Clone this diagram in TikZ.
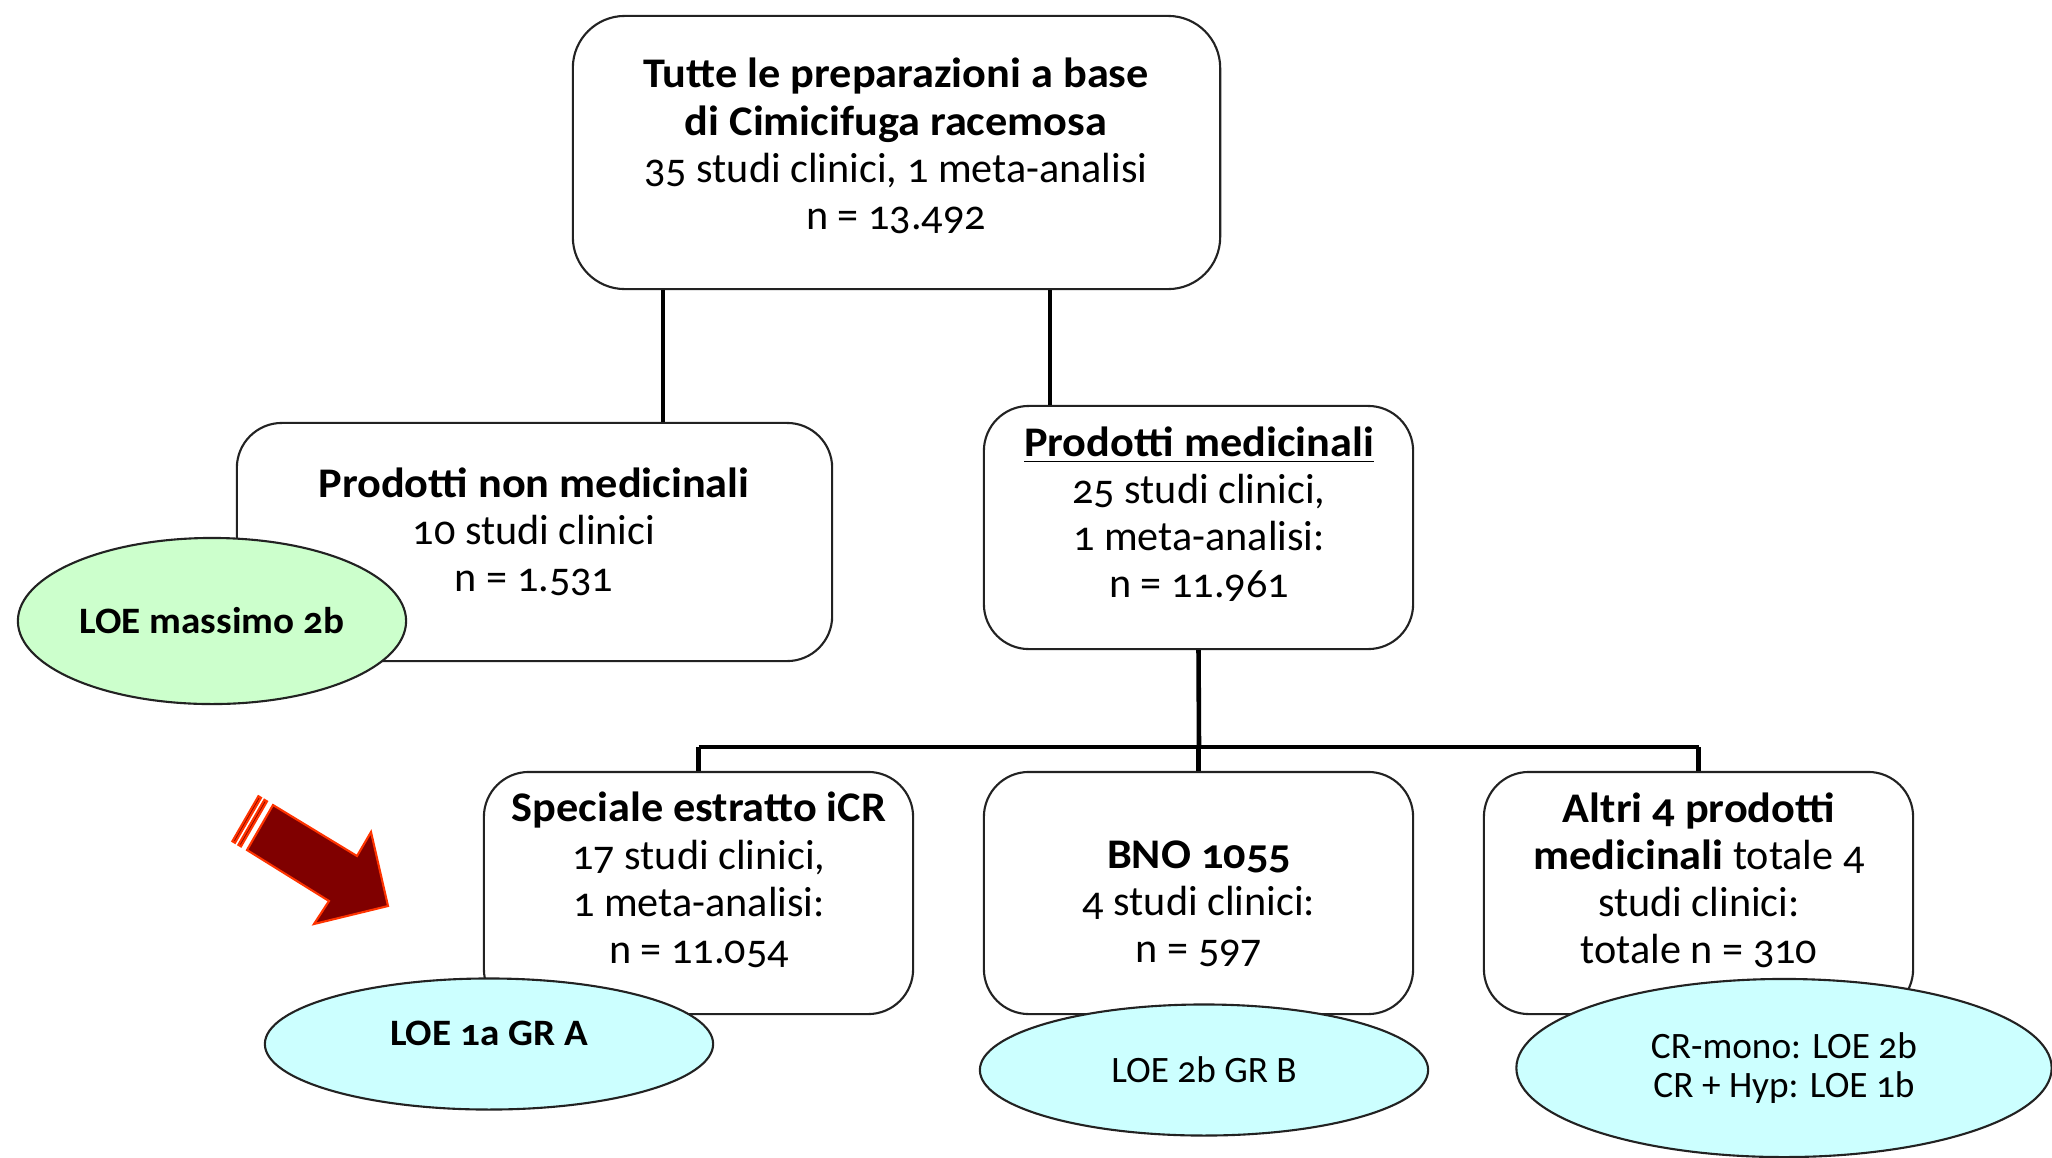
\documentclass[tikz,border=0pt]{standalone}
\usepackage{fontspec}
\setmainfont{Carlito}[Numbers=OldStyle, BoldFeatures={FakeStretch=1.05}]
\usetikzlibrary{shapes.geometric}
\definecolor{greenfill}{HTML}{CCFFCC}
\definecolor{cyanfill}{HTML}{CCFFFF}
\definecolor{arrowred}{HTML}{800000}
\definecolor{arroworange}{HTML}{FF3300}
\definecolor{boxline}{HTML}{222222}
\tikzset{
  box/.style={draw=boxline, line width=0.6pt, rounded corners=0.45cm, inner sep=0pt},
  topbox/.style={box, rounded corners=0.52cm},
  conn/.style={draw=black, line width=1.3pt},
  txt/.style={align=center, font=\fontsize{12}{13.4}\selectfont, inner sep=0pt},
  loe/.style={ellipse, draw=boxline, line width=0.6pt, align=center, inner sep=0pt},
  loetxt/.style={font=\fontsize{10.6}{11.1}\selectfont},
  bigarrow/.style={fill=arrowred, draw=arroworange, line width=0.6pt, line join=miter}
}
\begin{document}
\begin{tikzpicture}[x=0.01cm, y=-0.01cm]
\useasboundingbox (0,0) rectangle (2052,1157);
% boxes
\node[topbox, minimum width=6.47cm, minimum height=2.73cm] (top) at (896.5,152.5) {};
\node[box, minimum width=5.95cm, minimum height=2.38cm] (L) at (534.5,542) {};
\node[box, minimum width=4.29cm, minimum height=2.43cm] (R) at (1198.5,527.5) {};
\node[box, minimum width=4.29cm, minimum height=2.42cm] (B1) at (698.5,893) {};
\node[box, minimum width=4.29cm, minimum height=2.42cm] (B2) at (1198.5,893) {};
\node[box, minimum width=4.29cm, minimum height=2.42cm] (B3) at (1698.5,893) {};
% connectors
\coordinate (c1) at (663,0);
\coordinate (c2) at (1050,0);
\coordinate (bus) at (1199,747);
\draw[conn] (top.south -| c1) -- (L.north -| c1);
\draw[conn] (top.south -| c2) -- (R.north -| c2);
\draw[conn] (R.south) -- (bus);
\draw[conn] (B1.north |- bus) -- (B3.north |- bus);
\draw[conn] (B1.north |- bus) -- (B1.north);
\draw[conn] (B2.north |- bus) -- (B2.north);
\draw[conn] (B3.north |- bus) -- (B3.north);
% texts
\node[txt] (ttop) at (896,146) {\textbf{Tutte le preparazioni a base}\\\textbf{di Cimicifuga racemosa}\\35 studi clinici, 1 meta-analisi\\n = 13.492};
\node[txt] (tL) at (534,532) {\textbf{Prodotti non medicinali}\\10 studi clinici\\n = 1.531};
\node[txt] (tR) at (1199,514) {\underline{\textbf{Prodotti medicinali}}\\25 studi clinici,\\1 meta-analisi:\\n = 11.961};
\node[txt] (tB1) at (699,880) {\textbf{Speciale estratto iCR}\\17 studi clinici,\\1 meta-analisi:\\n = 11.054};
\node[txt] (tB2) at (1199,904) {\textbf{BNO 1055}\\4 studi clinici:\\n = 597};
\node[txt] (tB3) at (1699,880) {\textbf{Altri 4 prodotti}\\\textbf{medicinali} totale 4\\studi clinici:\\totale n = 310};
% ellipses
\node[loe, fill=greenfill, minimum width=3.88cm, minimum height=1.66cm, loetxt] (E0) at (212,621) {\textbf{LOE massimo 2b}};
\node[loe, fill=cyanfill, minimum width=4.48cm, minimum height=1.31cm, loetxt] (E1) at (489,1044) {\raisebox{0.22cm}{\textbf{LOE 1a GR A}}};
\node[loe, fill=cyanfill, minimum width=4.48cm, minimum height=1.31cm, loetxt] (E2) at (1204,1070) {LOE 2b GR B};
\node[loe, fill=cyanfill, minimum width=5.35cm, minimum height=1.78cm, loetxt] (E3) at (1784,1068) {CR-mono: LOE 2b\\CR + Hyp: LOE 1b};
% big arrow
\draw[bigarrow] (273,805) -- (357,856) -- (371,832) -- (388,906) -- (314,924) -- (329,901) -- (247,850) -- cycle;
\draw[bigarrow] (267.0,801.4) -- (264.4,799.8) -- (238.4,844.8) -- (241.0,846.4) -- cycle;
\draw[bigarrow] (261.0,797.8) -- (258.4,796.2) -- (232.4,841.2) -- (235.0,842.8) -- cycle;
\end{tikzpicture}
\end{document}
